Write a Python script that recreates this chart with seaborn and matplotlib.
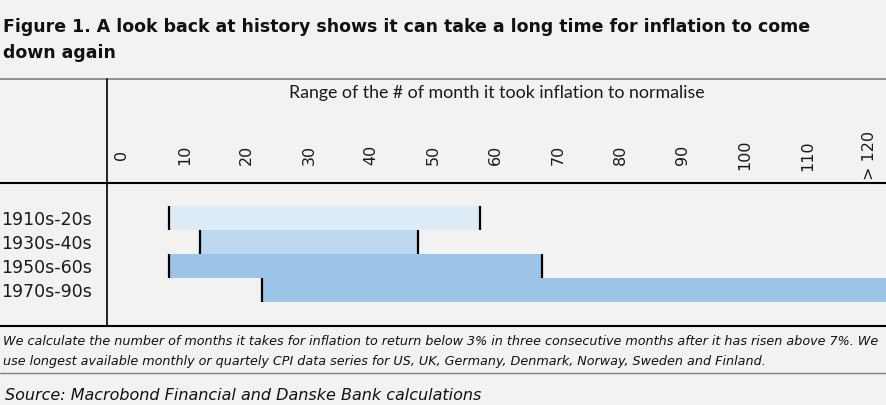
import numpy as np
import pandas as pd
import seaborn as sns
import matplotlib.pyplot as plt
from matplotlib.lines import Line2D

# data (months until inflation normalised)
periods = ["1910s-20s", "1930s-40s", "1950s-60s", "1970s-90s"]
start_months = [7.5, 12.5, 7.5, 22.5]
end_months = [57.5, 47.5, 67.5, 125]
end_marked = [True, True, True, False]
bar_colors = ["#ddebf7", "#bdd7ee", "#9dc3e6", "#9dc3e6"]
tick_values = [0, 10, 20, 30, 40, 50, 60, 70, 80, 90, 100, 110, 120]
tick_labels = ["0", "10", "20", "30", "40", "50", "60", "70", "80", "90", "100", "110", "> 120"]

BG = "#f2f2f2"
W, H = 887, 405
sns.set_theme(style="white", rc={"figure.facecolor": BG, "axes.facecolor": BG})
plt.rcParams["font.family"] = ["DejaVu Sans"]

def fx(px):
    return px / W

def fy(py):
    return 1 - py / H

df = pd.DataFrame({"period": periods, "start": start_months, "end": end_months})

fig = plt.figure(figsize=(W / 100, H / 100), dpi=100)
ax = fig.add_axes([fx(107), fy(326), fx(887) - fx(107), fy(183) - fy(326)])

# full bar up to end, then mask the part before the start with background
sns.barplot(data=df, x="end", y="period", hue="period", palette=bar_colors,
            saturation=1, width=1.0, linewidth=0, legend=False, ax=ax)
sns.barplot(data=df, x="start", y="period", color=BG,
            saturation=1, width=1.0, linewidth=0, ax=ax)

pos = np.arange(len(periods))
ax.vlines(start_months, pos - 0.5, pos + 0.5, color="black", lw=1.6, zorder=5)
for p, e, m in zip(pos, end_months, end_marked):
    if m:
        ax.vlines(e, p - 0.5, p + 0.5, color="black", lw=1.6, zorder=5)

ax.set_xlim(-2.4, 122.8)
ax.set_ylim(4.5, -1.46)
ax.set_xlabel("")
ax.set_ylabel("")
for s in ax.spines.values():
    s.set_visible(False)

ax.xaxis.tick_top()
ax.set_xticks(tick_values)
ax.set_xticklabels(tick_labels, rotation=90, va="center", ha="center",
                   fontsize=11.5, color="#1a1a1a")
ax.tick_params(axis="x", length=0, pad=20)
ax.tick_params(axis="y", length=0, pad=11, labelsize=12.5, labelcolor="#1a1a1a")

ax.text(0.5, 1 + 85 / 143, "Range of the # of month it took inflation to normalise",
        transform=ax.transAxes, ha="center", va="baseline", fontsize=12.8,
        color="#1a1a1a", family=["Lato"])

# title
fig.text(fx(3), fy(32), "Figure 1. A look back at history shows it can take a long time for inflation to come",
         fontsize=12.5, fontweight="bold", color="#111111", va="baseline")
fig.text(fx(3), fy(58), "down again", fontsize=12.5, fontweight="bold", color="#111111", va="baseline")

# frame lines
fig.add_artist(Line2D([0, 1], [fy(79), fy(79)], color="#7f7f7f", lw=1.2))
fig.add_artist(Line2D([fx(107), fx(107)], [fy(79), fy(326)], color="black", lw=1.2))
fig.add_artist(Line2D([0, 1], [fy(183), fy(183)], color="black", lw=1.5))
fig.add_artist(Line2D([0, 1], [fy(326), fy(326)], color="black", lw=1.5))
fig.add_artist(Line2D([0, 1], [fy(373), fy(373)], color="#7f7f7f", lw=1.0))

fig.text(fx(3), fy(345), "We calculate the number of months it takes for inflation to return below 3% in three "
         "consecutive months after it has risen above 7%. We", fontsize=9.2, style="italic",
         color="#111111", va="baseline")
fig.text(fx(3), fy(365), "use longest available monthly or quartely CPI data series for US, UK, Germany, "
         "Denmark, Norway, Sweden and Finland.", fontsize=9.2, style="italic",
         color="#111111", va="baseline")
fig.text(fx(5), fy(400), "Source: Macrobond Financial and Danske Bank calculations", fontsize=11.5,
         style="italic", color="#111111", va="baseline")

fig.savefig("out.png", dpi=100, facecolor=BG)
